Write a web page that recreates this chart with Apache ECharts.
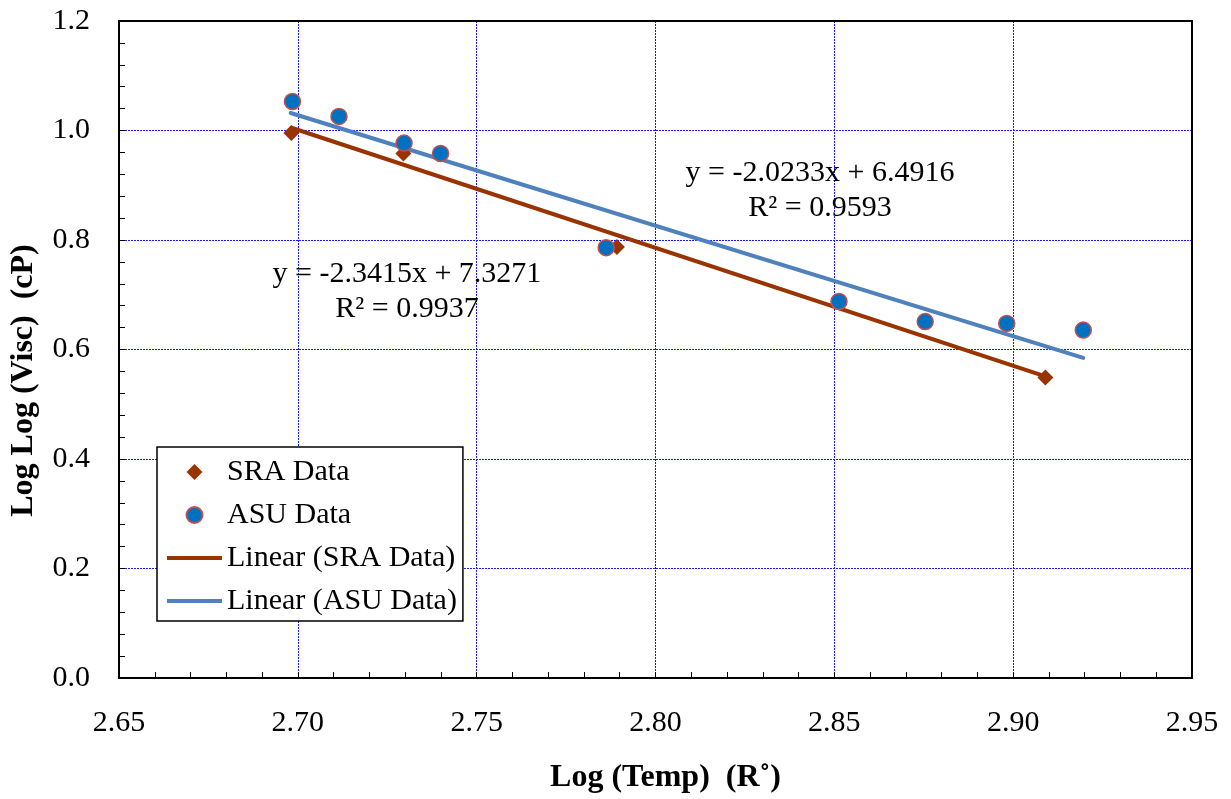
<!DOCTYPE html>
<html>
<head>
<meta charset="utf-8">
<script src="https://cdn.jsdelivr.net/npm/echarts@6/dist/echarts.min.js"></script>
<style>
html,body{margin:0;padding:0;background:#fff;}
#chart{width:1231px;height:799px;}
</style>
</head>
<body>
<div id="chart"></div>
<script>
// ---- data ----
const sraX = [2.6982, 2.7295, 2.7892, 2.9090];
const sraY = [0.9955, 0.9580, 0.7870, 0.5490];

const asuX = [2.6985, 2.7115, 2.7297, 2.7399, 2.7862, 2.8513, 2.8754, 2.8982, 2.9196];
const asuY = [1.0530, 1.0257, 0.9770, 0.9580, 0.7860, 0.6877, 0.6510, 0.6477, 0.6355];

// trendline end points as drawn in the picture
const sraTrendX = [2.6982, 2.9090];
const sraTrendY = [1.0050, 0.5510];
const asuTrendX = [2.6980, 2.9196];
const asuTrendY = [1.0320, 0.5846];

// equation annotations (text + anchor in data units)
const annTexts = ['y = -2.0233x + 6.4916\nR² = 0.9593', 'y = -2.3415x + 7.3271\nR² = 0.9937'];
const annX = [2.8460, 2.7305];
const annY = [0.8900, 0.7050];

const xTicks = { min: 2.65, max: 2.95, interval: 0.05 };
const yTicks = { min: 0, max: 1.2, interval: 0.2 };

const seriesNames = ['SRA Data', 'ASU Data', 'Linear (SRA Data)', 'Linear (ASU Data)'];

// ---- build ----
const zip = (xs, ys) => xs.map((x, i) => [x, ys[i]]);
const FONT = "'Liberation Serif', 'Times New Roman', serif";
const SRA_COLOR = '#993300';
const ASU_FILL = '#0070C0';
const ASU_BORDER = '#C0504D';
const ASU_LINE = '#4F81BD';
const GRID_BLUE = '#1a1aff';

const chart = echarts.init(document.getElementById('chart'), null, { renderer: 'canvas' });

const option = {
  animation: false,
  backgroundColor: '#ffffff',
  grid: {
    left: 119, top: 21, right: 39, bottom: 119,
    show: true, borderColor: '#000', borderWidth: 2, backgroundColor: 'transparent', z: 10
  },
  xAxis: {
    type: 'value',
    min: xTicks.min, max: xTicks.max, interval: xTicks.interval,
    name: 'Log (Temp)  (R˚)',
    nameLocation: 'middle',
    nameGap: 84,
    nameTextStyle: { fontFamily: FONT, fontSize: 32, fontWeight: 'bold', color: '#000', padding: [0, 0, 0, 20] },
    axisLine: { show: true, onZero: false, lineStyle: { color: '#000', width: 2 } },
    axisTick: { show: true, inside: true, length: 6, lineStyle: { color: '#000', width: 1 } },
    minorTick: { show: true, splitNumber: 5, length: 6, lineStyle: { color: '#000', width: 1 } },
    axisLabel: { margin: 30, fontFamily: FONT, fontSize: 30, color: '#000', formatter: v => v.toFixed(2) },
    splitLine: { show: true, showMinLine: false, showMaxLine: false, lineStyle: { color: GRID_BLUE, width: 1, type: [2, 1] } }
  },
  yAxis: {
    type: 'value',
    min: yTicks.min, max: yTicks.max, interval: yTicks.interval,
    name: 'Log Log (Visc)  (cP)',
    nameLocation: 'middle',
    nameGap: 79,
    nameRotate: 90,
    nameTextStyle: { fontFamily: FONT, fontSize: 32, fontWeight: 'bold', color: '#000', padding: [0, 62, 0, 0] },
    axisLine: { show: true, onZero: false, lineStyle: { color: '#000', width: 2 } },
    axisTick: { show: true, inside: true, length: 6, lineStyle: { color: '#000', width: 1 } },
    minorTick: { show: true, splitNumber: 5, length: 6, lineStyle: { color: '#000', width: 1 } },
    axisLabel: { margin: 29, fontFamily: FONT, fontSize: 30, color: '#000', formatter: v => v.toFixed(1) },
    splitLine: { show: true, showMinLine: false, showMaxLine: false, lineStyle: { color: GRID_BLUE, width: 1, type: [2, 1] } }
  },
  legend: {
    orient: 'vertical',
    left: 157, top: 447,
    padding: [10, 6, 5, 10],
    itemGap: 13,
    itemWidth: 55,
    itemHeight: 16,
    symbolKeepAspect: true,
    backgroundColor: '#fff',
    borderColor: '#000',
    borderWidth: 1.5,
    borderRadius: 0,
    textStyle: { fontFamily: FONT, fontSize: 30, color: '#000' },
    data: [
      { name: seriesNames[0], icon: 'path://M0,-1L1,0L0,1L-1,0Z' },
      { name: seriesNames[1], icon: 'path://M1,0A1,1,0,1,1,-1,0A1,1,0,1,1,1,0Z' },
      { name: seriesNames[2], icon: 'path://M0,0L55,0L55,4L0,4Z' },
      { name: seriesNames[3], icon: 'path://M0,0L55,0L55,4L0,4Z' }
    ]
  },
  series: [
    {
      name: seriesNames[2], type: 'line', data: zip(sraTrendX, sraTrendY),
      symbol: 'none', showSymbol: false, z: 2,
      color: SRA_COLOR, itemStyle: { color: SRA_COLOR },
      lineStyle: { color: SRA_COLOR, width: 4, cap: 'round' }
    },
    {
      name: seriesNames[3], type: 'line', data: zip(asuTrendX, asuTrendY),
      symbol: 'none', showSymbol: false, z: 2,
      color: ASU_LINE, itemStyle: { color: ASU_LINE },
      lineStyle: { color: ASU_LINE, width: 4, cap: 'round' }
    },
    {
      name: seriesNames[0], type: 'scatter', data: zip(sraX, sraY),
      symbol: 'diamond', symbolSize: 16, z: 3,
      itemStyle: { color: SRA_COLOR, opacity: 1 }
    },
    {
      name: seriesNames[1], type: 'scatter', data: zip(asuX, asuY),
      symbol: 'circle', symbolSize: 16, z: 4,
      itemStyle: { color: ASU_FILL, borderColor: ASU_BORDER, borderWidth: 1.5, opacity: 1 }
    },
    {
      name: 'annotations', type: 'scatter', silent: true, z: 5,
      data: annTexts.map((t, i) => [annX[i], annY[i], t]),
      symbolSize: 1,
      itemStyle: { color: 'rgba(255,255,255,0)' },
      label: {
        show: true, position: 'inside',
        formatter: p => p.data[2],
        fontFamily: FONT, fontSize: 30, lineHeight: 35, color: '#000', align: 'center',
        textBorderWidth: 0, textBorderColor: 'transparent', opacity: 1
      },
      emphasis: { disabled: true }
    }
  ]
};

chart.setOption(option);
</script>
</body>
</html>
